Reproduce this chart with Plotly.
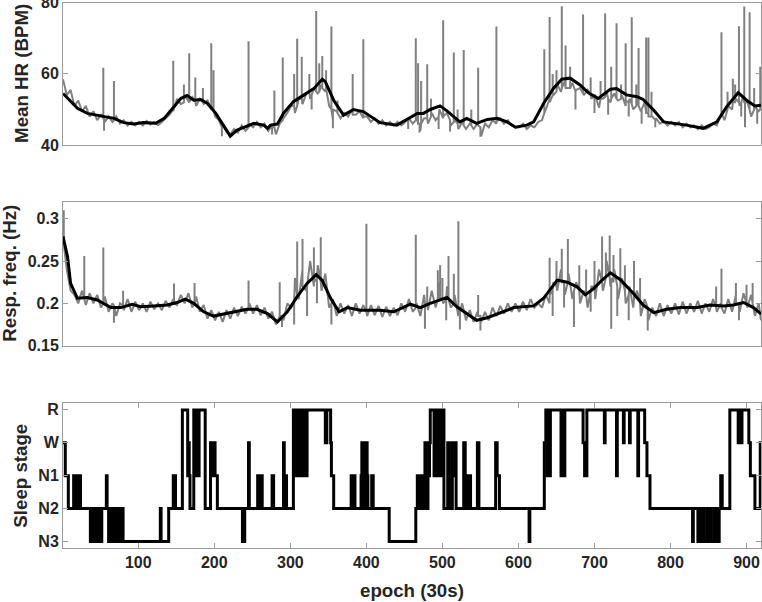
import plotly.graph_objects as go

# ---------------- data ----------------
grid_epoch = list(range(1, 917, 5)) + [919]

hr_base_bpm = [
    58.5, 54.0, 55.5, 51.0, 52.5, 49.5, 51.0, 48.0, 49.5, 47.0,
    48.5, 46.5, 48.0, 46.5, 48.0, 46.0, 47.0, 45.5, 46.5, 45.5,
    46.5, 45.5, 46.8, 45.8, 46.5, 45.6, 46.5, 47.5, 48.5, 50.0,
    53.0, 51.5, 54.0, 52.0, 53.5, 51.0, 53.0, 51.5, 52.5, 50.0,
    48.0, 47.0, 45.5, 44.0, 43.0, 44.5, 43.5, 45.5, 44.0, 46.0,
    45.0, 46.5, 45.0, 46.0, 44.0, 45.5, 43.0, 46.0, 47.5, 49.0,
    51.0, 49.0, 53.0, 51.5, 54.5, 53.0, 56.0, 54.5, 57.0, 55.0,
    51.0, 47.0, 49.5, 47.5, 49.0, 48.0, 50.0, 48.5, 49.5, 47.5,
    48.0, 46.5, 47.5, 46.0, 47.0, 45.5, 46.5, 45.5, 46.5, 45.5,
    46.5, 47.5, 46.0, 48.0, 44.0, 47.5, 46.0, 49.0, 47.0, 50.0,
    47.5, 49.0, 45.5, 47.0, 44.5, 46.5, 44.5, 46.0, 44.5, 46.0,
    42.5, 46.0, 45.0, 47.0, 46.0, 47.5, 46.0, 47.0, 45.5, 45.0,
    45.0, 46.0, 44.5, 45.5, 45.0, 46.5, 47.0, 50.0, 53.0, 54.0,
    57.0, 55.0, 58.0, 56.0, 57.5, 55.5, 56.0, 54.0, 55.5, 53.0,
    54.0, 50.5, 53.0, 55.0, 52.0, 54.5, 52.5, 54.0, 51.0, 53.0,
    50.0, 53.0, 49.5, 52.0, 49.0, 48.0, 47.5, 46.0, 46.8, 45.5,
    46.5, 45.5, 46.5, 45.0, 46.0, 45.0, 45.5, 44.5, 45.5, 44.5,
    45.0, 46.0, 45.5, 48.0, 47.0, 51.0, 50.0, 53.0, 51.0, 54.0,
    52.0, 48.0, 51.0, 49.5, 50.5,
]

# short excursions (spikes / dips): epoch, level they leave from, extreme value
hr_event_epoch = [54, 55, 68, 146, 160, 167, 175, 185, 196, 199, 210, 245, 276, 279, 290,
                  305, 309, 315, 325, 328, 334, 338, 342, 347, 354, 356, 362, 382, 396,
                  455, 465, 468, 470, 472, 480, 485, 495, 501, 510, 515, 520, 528, 538,
                  547, 550, 571, 634, 641, 645, 650, 657, 662, 668, 675, 685, 695, 700,
                  708, 714, 718, 722, 729, 735, 741, 745, 749, 755, 758, 762, 768, 771,
                  775, 780, 867, 875, 882, 885, 890, 893, 897, 898, 904, 910, 914, 918]
hr_event_from = [47.5, 47.5, 47.0, 49.5, 52.0, 52.0, 52.5, 52.0, 51.0, 50.0, 45.0, 45.0,
                 45.0, 45.0, 47.0, 51.0, 51.0, 53.0, 55.0, 54.0, 55.0, 55.0, 56.0, 56.0,
                 50.0, 50.0, 49.0, 48.5, 48.0, 47.0, 47.0, 46.0, 46.0, 46.0, 47.5, 48.0,
                 48.0, 48.0, 47.0, 46.5, 46.0, 45.5, 45.5, 45.5, 45.0, 46.5, 49.0, 52.0,
                 54.0, 55.0, 56.0, 56.0, 56.0, 55.0, 54.5, 54.0, 54.0, 53.0, 53.5, 53.0,
                 53.0, 53.0, 53.0, 52.5, 52.0, 51.5, 51.0, 51.0, 50.0, 49.0, 48.0, 48.0,
                 47.0, 49.0, 50.0, 52.0, 52.0, 52.0, 52.0, 52.0, 52.0, 50.0, 50.0, 50.0,
                 50.0]
hr_event_to = [61.7, 44.0, 58.0, 63.7, 57.0, 65.8, 59.0, 56.0, 68.6, 61.0, 42.5, 69.2,
               43.0, 55.3, 64.6, 60.0, 69.9, 64.8, 60.0, 50.0, 77.7, 63.0, 65.0, 61.0,
               73.3, 44.7, 52.5, 60.0, 69.7, 44.5, 70.0, 63.0, 43.5, 58.0, 62.7, 53.0,
               44.5, 75.1, 43.8, 66.0, 50.0, 66.7, 50.0, 61.7, 42.3, 73.3, 66.9, 76.0,
               60.0, 61.0, 79.0, 68.0, 62.0, 50.0, 76.7, 59.0, 49.0, 58.0, 77.0, 48.5,
               62.0, 74.2, 57.0, 68.6, 48.0, 75.9, 57.0, 67.3, 46.0, 70.2, 70.2, 55.0,
               45.0, 71.7, 55.0, 58.6, 57.0, 73.4, 48.0, 78.9, 45.0, 77.3, 56.0, 46.0,
               62.0]

hr_smooth_epoch = [1, 20, 33, 50, 68, 81, 94, 107, 123, 134, 147, 156, 164, 173, 182, 191, 202,
                   212, 221, 230, 243, 252, 265, 270, 274, 283, 291, 304, 318, 331, 342, 346,
                   357, 370, 383, 396, 418, 440, 453, 467, 475, 484, 497, 506, 523, 532, 545,
                   559, 572, 585, 596, 611, 620, 633, 646, 657, 668, 681, 692, 705, 721, 729,
                   742, 756, 764, 778, 791, 804, 821, 843, 861, 874, 889, 900, 911, 919]
hr_smooth_bpm = [54.5, 50.3, 48.9, 48.2, 47.5, 46.3, 45.9, 46.3, 46.1, 47.5, 50.8, 53.1, 53.9, 52.6,
                 52.8, 51.7, 48.9, 45.6, 42.5, 44.2, 45.3, 46.1, 45.6, 44.7, 45.6, 45.9, 48.9,
                 52.2, 54.1, 55.9, 58.5, 57.8, 52.6, 48.4, 50.0, 49.4, 46.3, 45.6, 47.2, 48.9,
                 48.9, 50.0, 51.0, 49.6, 46.5, 47.5, 46.1, 47.2, 47.5, 46.5, 45.0, 45.6, 46.5,
                 51.7, 55.9, 58.5, 58.8, 56.9, 54.7, 53.1, 55.7, 55.9, 54.1, 53.6, 52.8, 49.8,
                 46.5, 46.1, 45.6, 44.7, 46.5, 50.8, 54.7, 52.6, 51.0, 51.2]

resp_base_hz = [
    0.300, 0.240, 0.215, 0.210, 0.200, 0.215, 0.198, 0.212, 0.200, 0.210,
    0.195, 0.208, 0.190, 0.200, 0.185, 0.200, 0.192, 0.205, 0.190, 0.202,
    0.192, 0.200, 0.190, 0.202, 0.193, 0.200, 0.192, 0.203, 0.195, 0.205,
    0.198, 0.210, 0.200, 0.212, 0.195, 0.208, 0.190, 0.198, 0.182, 0.192,
    0.180, 0.190, 0.178, 0.192, 0.182, 0.195, 0.185, 0.196, 0.188, 0.200,
    0.188, 0.198, 0.186, 0.195, 0.182, 0.190, 0.175, 0.185, 0.180, 0.200,
    0.195, 0.230, 0.205, 0.240, 0.215, 0.250, 0.220, 0.245, 0.215, 0.235,
    0.195, 0.205, 0.185, 0.200, 0.188, 0.198, 0.185, 0.200, 0.188, 0.198,
    0.185, 0.198, 0.186, 0.197, 0.184, 0.196, 0.185, 0.195, 0.186, 0.200,
    0.190, 0.205, 0.190, 0.200, 0.185, 0.210, 0.192, 0.215, 0.195, 0.225,
    0.200, 0.220, 0.195, 0.210, 0.185, 0.200, 0.180, 0.192, 0.178, 0.190,
    0.178, 0.190, 0.180, 0.195, 0.185, 0.197, 0.188, 0.200, 0.190, 0.200,
    0.190, 0.202, 0.192, 0.205, 0.195, 0.200, 0.195, 0.210, 0.200, 0.225,
    0.215, 0.240, 0.210, 0.235, 0.205, 0.225, 0.200, 0.215, 0.195, 0.220,
    0.205, 0.240, 0.215, 0.250, 0.220, 0.240, 0.205, 0.230, 0.200, 0.220,
    0.195, 0.215, 0.185, 0.205, 0.180, 0.195, 0.185, 0.200, 0.185, 0.198,
    0.188, 0.200, 0.187, 0.202, 0.188, 0.200, 0.190, 0.203, 0.188, 0.200,
    0.190, 0.205, 0.190, 0.200, 0.188, 0.205, 0.190, 0.210, 0.190, 0.212,
    0.195, 0.210, 0.185, 0.200, 0.180,
]

resp_event_epoch = [2, 29, 54, 68, 80, 147, 174, 245, 286, 289, 305, 309, 316, 322, 331,
                    335, 340, 354, 400, 465, 477, 480, 494, 497, 500, 505, 508, 515, 521,
                    523, 547, 550, 641, 645, 650, 657, 660, 665, 673, 680, 689, 695, 700,
                    710, 715, 720, 722, 725, 730, 734, 740, 745, 752, 760, 770, 860, 867,
                    886, 890, 900, 908]
resp_event_from = [0.270, 0.205, 0.200, 0.197, 0.197, 0.200, 0.200, 0.195, 0.185, 0.185,
                   0.200, 0.210, 0.220, 0.220, 0.225, 0.230, 0.225, 0.200, 0.190, 0.195,
                   0.200, 0.200, 0.205, 0.205, 0.205, 0.205, 0.205, 0.200, 0.195, 0.190,
                   0.185, 0.185, 0.210, 0.215, 0.220, 0.225, 0.225, 0.225, 0.215, 0.215,
                   0.210, 0.215, 0.220, 0.225, 0.230, 0.230, 0.230, 0.225, 0.220, 0.220,
                   0.215, 0.210, 0.205, 0.200, 0.195, 0.195, 0.195, 0.200, 0.200, 0.200,
                   0.200]
resp_event_to = [0.310, 0.256, 0.266, 0.177, 0.215, 0.2235, 0.224, 0.227, 0.225, 0.172,
                 0.175, 0.273, 0.276, 0.185, 0.266, 0.200, 0.278, 0.175, 0.294, 0.281,
                 0.170, 0.220, 0.239, 0.245, 0.230, 0.180, 0.256, 0.235, 0.297, 0.169,
                 0.210, 0.168, 0.254, 0.185, 0.250, 0.2645, 0.195, 0.276, 0.172, 0.245,
                 0.240, 0.190, 0.250, 0.279, 0.260, 0.280, 0.170, 0.257, 0.185, 0.265,
                 0.245, 0.180, 0.250, 0.230, 0.168, 0.220, 0.241, 0.224, 0.180, 0.222,
                 0.224]

resp_smooth_epoch = [1, 7, 11, 20, 33, 46, 64, 77, 92, 103, 120, 138, 151, 162, 173, 186, 199,
                     212, 226, 243, 256, 270, 283, 296, 309, 322, 334, 342, 353, 364, 375, 383,
                     392, 418, 436, 458, 471, 484, 506, 519, 532, 545, 559, 576, 594, 620, 633,
                     651, 664, 677, 688, 699, 710, 721, 734, 751, 764, 778, 795, 813, 835, 852,
                     870, 883, 896, 909, 919]
resp_smooth_hz = [0.279, 0.255, 0.2235, 0.206, 0.207, 0.204, 0.195, 0.195, 0.199, 0.196, 0.197,
                  0.198, 0.201, 0.205, 0.200, 0.190, 0.185, 0.1875, 0.190, 0.193, 0.193, 0.188,
                  0.178, 0.190, 0.208, 0.2235, 0.234, 0.227, 0.206, 0.190, 0.195, 0.194, 0.192,
                  0.192, 0.190, 0.199, 0.195, 0.200, 0.207, 0.196, 0.188, 0.180, 0.183, 0.189,
                  0.195, 0.197, 0.206, 0.2275, 0.225, 0.2195, 0.210, 0.2175, 0.2275, 0.236,
                  0.228, 0.212, 0.198, 0.189, 0.193, 0.195, 0.195, 0.198, 0.197, 0.198, 0.201,
                  0.195, 0.1875]

stage_epoch = [1, 4, 8, 15, 17, 20, 21, 22, 24, 37, 39, 40, 42, 43, 45, 46, 48, 49, 52, 58, 59,
               61, 64, 66, 68, 69, 71, 73, 75, 76, 78, 80, 129, 130, 140, 146, 149, 158, 165,
               166, 167, 168, 173, 176, 177, 179, 180, 188, 195, 197, 198, 201, 204, 237, 240,
               245, 246, 257, 260, 261, 263, 276, 278, 291, 292, 294, 295, 304, 306, 307, 309,
               310, 312, 313, 315, 316, 318, 319, 321, 322, 346, 348, 353, 354, 357, 380, 382,
               383, 385, 393, 394, 396, 399, 401, 402, 407, 409, 430, 465, 467, 469, 471, 474,
               477, 479, 481, 483, 484, 489, 490, 492, 493, 495, 496, 498, 499, 502, 507, 509,
               513, 515, 516, 518, 528, 530, 531, 533, 534, 537, 546, 548, 570, 572, 575, 614,
               615, 634, 636, 638, 639, 641, 642, 656, 657, 658, 659, 660, 661, 685, 687, 688,
               689, 690, 713, 714, 729, 730, 738, 739, 746, 747, 757, 758, 766, 769, 773, 829,
               830, 836, 838, 840, 843, 844, 848, 850, 852, 853, 857, 858, 860, 861, 864, 866,
               868, 878, 889, 890, 893, 894, 903, 905, 911, 918, 919]
stage_label = ["W", "N1", "N2", "N1", "N2", "N1", "N2", "N1", "N2", "N3", "N2", "N3", "N2", "N3",
               "N2", "N3", "N2", "N3", "N2", "N1", "N2",
               "N3", "N2", "N3", "N2", "N3", "N2", "N3", "N2", "N3", "N2", "N3", "N2", "N3", "N2",
               "N1", "N2", "R", "N1",
               "W", "N1", "N2", "R", "N1", "R", "N1", "R", "N2", "W", "N1", "W", "N1", "N2", "N3",
               "N2",
               "W", "N2", "N1", "N2", "N1", "N2", "N1", "N2", "W", "N2", "N1", "N2", "R", "N1", "R",
               "N1",
               "R", "N1", "R", "N1", "R", "N1", "R", "N1", "R", "W", "R", "W", "N1", "N2", "N1", "N2",
               "N1", "N2", "N1", "W", "N2", "W", "N1", "N2", "N1", "N2", "N3", "N2", "N1", "N2", "N1",
               "N2",
               "W", "N2", "N1", "W", "R", "N1", "R", "N1", "R", "N1", "R", "N1", "R", "N2", "W", "N2",
               "W", "N1", "W", "N2", "W", "N2", "N1", "N2", "N1", "N2", "W", "N2", "W", "N1", "N2",
               "N3",
               "N2", "W", "R", "N1", "R", "N1", "R", "N1", "R", "N1", "R", "N1", "R", "W", "N1", "W",
               "N1", "R", "W", "R", "N1", "R", "W", "R", "W", "R", "N1", "R", "W", "N1", "N2", "N3",
               "N2", "N3", "N2", "N3", "N2", "N3", "N2", "N3", "N2", "N3", "N2", "N3", "N2", "N3",
               "N2", "N1",
               "N2", "R", "W", "R", "W", "R", "W", "N1", "N2", "W", "W"]

stage_names = ["N3", "N2", "N1", "W", "R"]
hr_ticks = [40, 60, 80]
resp_ticks = [0.15, 0.2, 0.25, 0.3]
resp_ticktext = ["0.15", "0.2", "0.25", "0.3"]
epoch_ticks = [100, 200, 300, 400, 500, 600, 700, 800, 900]


def build(grid, base, ev_e, ev_from, ev_to):
    pts = [(e, 0, v) for e, v in zip(grid, base)]
    for e, a, b in zip(ev_e, ev_from, ev_to):
        pts += [(e, 1, a), (e, 2, b), (e, 3, a)]
    pts.sort(key=lambda t: (t[0], t[1]))
    return [t[0] for t in pts], [t[2] for t in pts]


hr_raw_x, hr_raw_y = build(grid_epoch, hr_base_bpm, hr_event_epoch, hr_event_from, hr_event_to)
resp_raw_x, resp_raw_y = build(grid_epoch, resp_base_hz, resp_event_epoch, resp_event_from,
                               resp_event_to)
stage_level = {name: i + 1 for i, name in enumerate(stage_names)}
stage_y = [stage_level[s] for s in stage_label]

GRAY = "#808080"
fig = go.Figure()
fig.add_trace(go.Scatter(x=hr_raw_x, y=hr_raw_y, mode="lines", line=dict(color=GRAY, width=2),
                         xaxis="x", yaxis="y", showlegend=False))
fig.add_trace(go.Scatter(x=hr_smooth_epoch, y=hr_smooth_bpm, mode="lines",
                         line=dict(color="black", width=3), xaxis="x", yaxis="y", showlegend=False))
fig.add_trace(go.Scatter(x=resp_raw_x, y=resp_raw_y, mode="lines", line=dict(color=GRAY, width=2),
                         xaxis="x2", yaxis="y2", showlegend=False))
fig.add_trace(go.Scatter(x=resp_smooth_epoch, y=resp_smooth_hz, mode="lines",
                         line=dict(color="black", width=3), xaxis="x2", yaxis="y2", showlegend=False))
fig.add_trace(go.Scatter(x=stage_epoch, y=stage_y, mode="lines",
                         line=dict(color="black", width=3, shape="hv"),
                         xaxis="x3", yaxis="y3", showlegend=False))

AX = "#9c9c9c"
TF = dict(family="Liberation Sans", size=16, color="#262626", weight="bold")
common = dict(showline=True, linecolor=AX, linewidth=1, mirror="ticks", showgrid=False,
              zeroline=False, ticks="inside", ticklen=5, tickcolor=AX, tickwidth=1, tickfont=TF,
              ticklabeloverflow="allow", automargin=False)

xr = [1, 919]
fig.update_layout(
    width=762, height=602,
    margin=dict(l=63, r=1, t=2, b=54, autoexpand=False),
    paper_bgcolor="white", plot_bgcolor="white",
    xaxis=dict(common, domain=[0, 1], range=xr, anchor="y", showticklabels=False, ticks=""),
    yaxis=dict(common, domain=[0.738, 0.9987], range=[40, 80], anchor="x", tickvals=hr_ticks),
    xaxis2=dict(common, domain=[0, 1], range=xr, anchor="y2", showticklabels=False, ticks=""),
    yaxis2=dict(common, domain=[0.3705, 0.6342], range=[0.15, 0.32], anchor="x2",
                tickvals=resp_ticks, ticktext=resp_ticktext),
    xaxis3=dict(common, domain=[0, 1], range=xr, anchor="y3", tickvals=epoch_ticks),
    yaxis3=dict(common, domain=[0.0, 0.265], range=[0.8, 5.2], anchor="x3",
                tickvals=[1, 2, 3, 4, 5], ticktext=stage_names),
)

TT = dict(family="Liberation Sans", size=18.7, color="#262626", weight="bold")
fig.add_annotation(text="Mean HR (BPM)", textangle=-90, xref="paper", yref="paper", x=0,
                   y=(0.738 + 0.9987) / 2, xanchor="center", yanchor="middle", xshift=-41,
                   showarrow=False, font=TT)
fig.add_annotation(text="Resp. freq. (Hz)", textangle=-90, xref="paper", yref="paper", x=0,
                   y=(0.3705 + 0.6342) / 2, xanchor="center", yanchor="middle", xshift=-53,
                   showarrow=False, font=TT)
fig.add_annotation(text="Sleep stage", textangle=-90, xref="paper", yref="paper", x=0,
                   y=0.265 / 2, xanchor="center", yanchor="middle", xshift=-42,
                   showarrow=False, font=TT)
fig.add_annotation(text="epoch (30s)", xref="paper", yref="paper", x=0.5, y=0,
                   xanchor="center", yanchor="middle", yshift=-42, showarrow=False, font=TT)

fig.write_html("out.html", config={"displayModeBar": False},
               post_script="document.body.style.margin='0px';document.body.style.padding='0px';")
